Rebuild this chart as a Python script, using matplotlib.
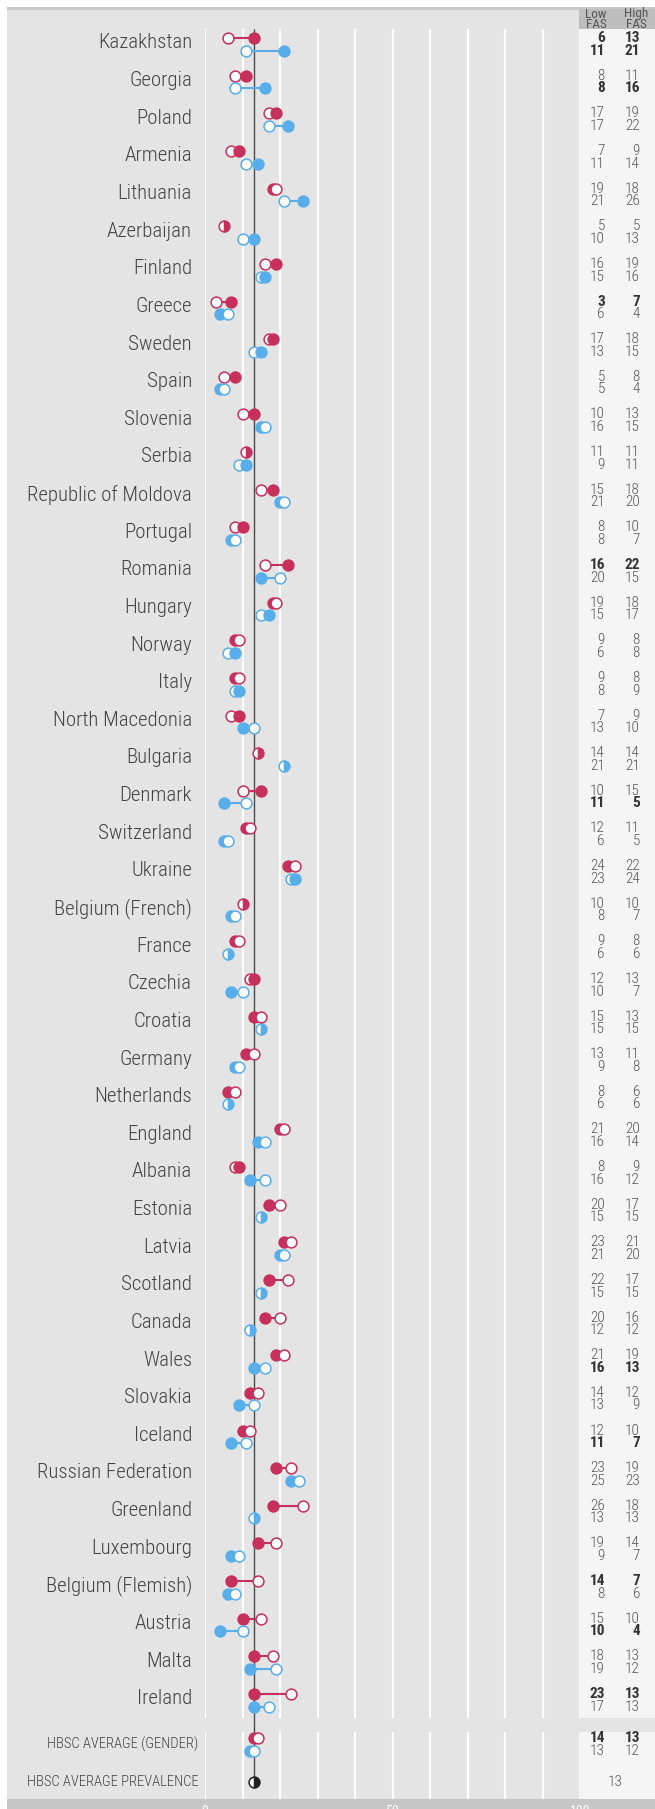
import os
import matplotlib
matplotlib.use("Agg")
import matplotlib.pyplot as plt
from matplotlib import font_manager
from matplotlib.font_manager import FontProperties
from matplotlib.patches import Rectangle
from matplotlib.transforms import blended_transform_factory

# ---- data (percentages) ----
countries = ["Kazakhstan", "Georgia", "Poland", "Armenia", "Lithuania", "Azerbaijan",
             "Finland", "Greece", "Sweden", "Spain", "Slovenia", "Serbia",
             "Republic of Moldova", "Portugal", "Romania", "Hungary", "Norway", "Italy",
             "North Macedonia", "Bulgaria", "Denmark", "Switzerland", "Ukraine",
             "Belgium (French)", "France", "Czechia", "Croatia", "Germany", "Netherlands",
             "England", "Albania", "Estonia", "Latvia", "Scotland", "Canada", "Wales",
             "Slovakia", "Iceland", "Russian Federation", "Greenland", "Luxembourg",
             "Belgium (Flemish)", "Austria", "Malta", "Ireland"]
girls_low = [6, 8, 17, 7, 19, 5, 16, 3, 17, 5, 10, 11, 15, 8, 16, 19, 9, 9, 7, 14, 10, 12,
             24, 10, 9, 12, 15, 13, 8, 21, 8, 20, 23, 22, 20, 21, 14, 12, 23, 26, 19, 14,
             15, 18, 23]
girls_high = [13, 11, 19, 9, 18, 5, 19, 7, 18, 8, 13, 11, 18, 10, 22, 18, 8, 8, 9, 14, 15,
              11, 22, 10, 8, 13, 13, 11, 6, 20, 9, 17, 21, 17, 16, 19, 12, 10, 19, 18, 14,
              7, 10, 13, 13]
boys_low = [11, 8, 17, 11, 21, 10, 15, 6, 13, 5, 16, 9, 21, 8, 20, 15, 6, 8, 13, 21, 11, 6,
            23, 8, 6, 10, 15, 9, 6, 16, 16, 15, 21, 15, 12, 16, 13, 11, 25, 13, 9, 8, 10,
            19, 17]
boys_high = [21, 16, 22, 14, 26, 13, 16, 4, 15, 4, 15, 11, 20, 7, 15, 17, 8, 9, 10, 21, 5,
             5, 24, 7, 6, 7, 15, 8, 6, 14, 12, 15, 20, 15, 12, 13, 9, 7, 23, 13, 7, 6, 4,
             12, 13]
girls_bold = ["Kazakhstan", "Greece", "Romania", "Belgium (Flemish)", "Ireland"]
boys_bold = ["Kazakhstan", "Georgia", "Denmark", "Wales", "Iceland", "Austria"]

avg_label = "HBSC AVERAGE (GENDER)"
avg_girls = (14, 13)
avg_boys = (13, 12)
prev_label = "HBSC AVERAGE PREVALENCE"
avg_prevalence = 13

# ---- fonts: look for a condensed face, the original uses one ----
files = {os.path.basename(f.fname).lower(): f.fname for f in font_manager.fontManager.ttflist}
families = [
    ("notosans-condensedlight.ttf", "notosans-condensed.ttf", "notosans-condensedsemibold.ttf"),
    ("robotocondensed-light.ttf", "robotocondensed-regular.ttf", "robotocondensed-bold.ttf"),
    ("opensans-condlight.ttf", "opensans-condlight.ttf", "opensans-condbold.ttf"),
    ("liberationsansnarrow-regular.ttf", "liberationsansnarrow-regular.ttf",
     "liberationsansnarrow-bold.ttf"),
    ("dejavusanscondensed.ttf", "dejavusanscondensed.ttf", "dejavusanscondensed-bold.ttf"),
]
light_f = reg_f = bold_f = None
for lt, rg, bd in families:
    if lt in files or rg in files:
        light_f = files.get(lt, files.get(rg))
        reg_f = files.get(rg, light_f)
        bold_f = files.get(bd, reg_f)
        break

def fp(kind, size):
    path = {"light": light_f, "reg": reg_f, "bold": bold_f}[kind]
    if path is None:
        return FontProperties(family="Liberation Sans", size=size * 0.85,
                              weight="bold" if kind == "bold" else "normal")
    return FontProperties(fname=path, size=size)

# ---- style ----
PINK = "#c7305c"
BLUE = "#58aeea"
BG = "#e4e4e4"
PANEL = "#f5f5f5"
HEAD = "#bdbdbd"

W, H = 655, 1809
fig = plt.figure(figsize=(W / 100, H / 100), dpi=100)

def fy(px):
    return 1 - px / H

# background blocks (figure pixels)
def block(x0, y0, x1, y1, color):
    fig.patches.append(Rectangle((x0 / W, fy(y1)), (x1 - x0) / W, (y1 - y0) / H,
                                 transform=fig.transFigure, color=color, zorder=-10, lw=0))

block(7, 7.3, W, 9.5, "#c8c8c8")
block(7, 9.5, W, 1799, BG)
block(578.5, 9.5, W, 29.3, HEAD)
block(578.5, 29.3, W, 1717.7, PANEL)
block(578.5, 1731.7, W, 1799, PANEL)
block(7, 1799, W, H, "#c6c6c6")

X0, PXU = 205.0, 3.756
ROW0, ROWH = 44.5, 37.63
ax_top, ax_bot = 29.3, 1799
ax = fig.add_axes([X0 / W, fy(ax_bot), 100 * PXU / W, (ax_bot - ax_top) / H])
ax.set_facecolor("none")
ax.set_xlim(0, 100)
ytop = (ax_top - ROW0) / ROWH
ybot = (ax_bot - ROW0) / ROWH
ax.set_ylim(ybot, ytop)
for s in ax.spines.values():
    s.set_visible(False)
ax.set_yticks([])
ax.set_xticks([0, 50, 100])
ax.tick_params(axis="x", length=0, colors="white", pad=4)
for t in ax.get_xticklabels():
    t.set_fontproperties(fp("reg", 10))

gap0 = (1717.7 - ROW0) / ROWH
gap1 = (1731.7 - ROW0) / ROWH
avg_y = (1744.7 - ROW0) / ROWH
prev_y = (1781.5 - ROW0) / ROWH
OFF = 6.3 / ROWH

grid_x = list(range(0, 100, 10))
ax.vlines(grid_x, ytop, gap0, color="white", lw=1.5, zorder=1)
ax.vlines(grid_x, gap1, ybot, color="white", lw=1.5, zorder=1)
ax.vlines(avg_prevalence, ytop, prev_y, color="#4a4a4a", lw=1, zorder=2)

MS, MEW = 7.8, 1.1

def pair(y, low, high, color):
    ax.plot([low, high], [y, y], color=color, lw=1.5, zorder=3, solid_capstyle="butt")
    if low == high:
        ax.plot([low], [y], "o", ms=MS, mew=MEW, mec=color, mfc=color,
                fillstyle="right", markerfacecoloralt="white", zorder=5)
        return
    z_low, z_high = (6, 5) if low > high else (5, 6)
    ax.plot([low], [y], "o", ms=MS, mew=MEW, mec=color, mfc="white", zorder=z_low)
    ax.plot([high], [y], "o", ms=MS, mew=MEW, mec=color, mfc=color, zorder=z_high)

lab_tr = blended_transform_factory(fig.transFigure, ax.transData)
NUM = 11

def numbers(y, low, high, bold):
    f = fp("bold", NUM) if bold else fp("light", NUM)
    c = "#333333" if bold else "#555555"
    ax.text(605 / W, y, str(low), transform=lab_tr, ha="right", va="center",
            fontproperties=f, color=c)
    ax.text(640 / W, y, str(high), transform=lab_tr, ha="right", va="center",
            fontproperties=f, color=c)

for i, name in enumerate(countries):
    pair(i - OFF, girls_low[i], girls_high[i], PINK)
    pair(i + OFF, boys_low[i], boys_high[i], BLUE)
    ax.text(192 / W, i - 0.04, name, transform=lab_tr, ha="right", va="center",
            fontproperties=fp("light", 15), color="#444444")
    numbers(i - OFF, girls_low[i], girls_high[i], name in girls_bold)
    numbers(i + OFF, boys_low[i], boys_high[i], name in boys_bold)

# averages
pair(avg_y - OFF, avg_girls[0], avg_girls[1], PINK)
pair(avg_y + OFF, avg_boys[0], avg_boys[1], BLUE)
numbers(avg_y - OFF, avg_girls[0], avg_girls[1], True)
numbers(avg_y + OFF, avg_boys[0], avg_boys[1], False)
ax.text(198.5 / W, avg_y, avg_label, transform=lab_tr, ha="right", va="center",
        fontproperties=fp("light", 10.5), color="#444444")
ax.plot([avg_prevalence], [prev_y], "o", ms=MS, mew=MEW, mec="#222222", mfc="#222222",
        fillstyle="right", markerfacecoloralt="white", zorder=6)
ax.text(198.5 / W, prev_y, prev_label, transform=lab_tr, ha="right", va="center",
        fontproperties=fp("light", 10.5), color="#444444")
ax.text(615 / W, prev_y, str(avg_prevalence), transform=lab_tr, ha="center", va="center",
        fontproperties=fp("light", NUM), color="#555555")

# header of the number columns
for xh, txt in [(596, "Low\nFAS"), (636, "High\nFAS")]:
    fig.text(xh / W, fy(19.5), txt, ha="center", va="center", fontproperties=fp("reg", 9.5),
             color="#555555", linespacing=0.8)

fig.savefig("out.png", dpi=100)
